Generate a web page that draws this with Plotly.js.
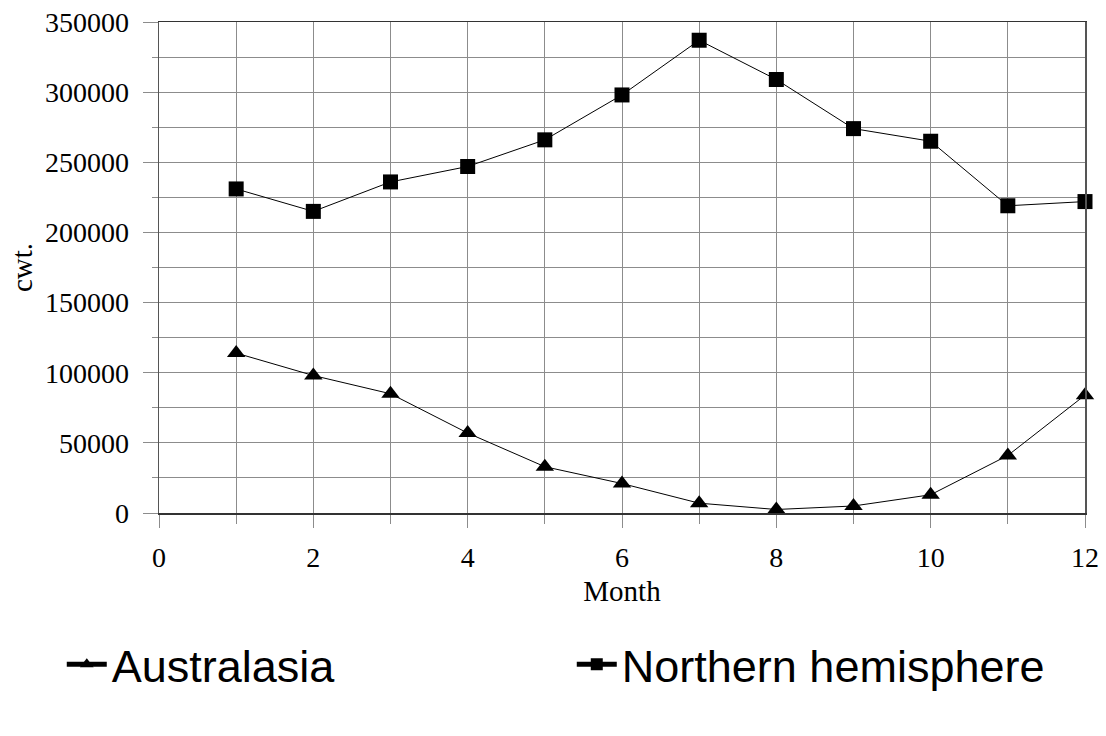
<!DOCTYPE html>
<html>
<head>
<meta charset="utf-8">
<script src="https://cdn.plot.ly/plotly-3.0.1.min.js"></script>
<style>html,body{margin:0;padding:0;background:#fff;}#chart{width:1106px;height:736px;}</style>
</head>
<body>
<div id="chart"></div>
<script>
const months = [1, 2, 3, 4, 5, 6, 7, 8, 9, 10, 11, 12];
const australasia = [114000, 98000, 85000, 57000, 33000, 21000, 7000, 2500, 5000, 13000, 41000, 84000];
const northern = [231000, 215000, 236000, 247000, 266000, 298000, 337000, 309000, 274000, 265000, 219000, 222000];
const seriesNames = ['Australasia', 'Northern hemisphere'];
const xTitle = 'Month';
const yTitle = 'cwt.';

const serif = '"Liberation Serif", "Times New Roman", serif';
const sans = '"Liberation Sans", Arial, sans-serif';

const traces = [
  {
    x: months, y: australasia, name: seriesNames[0], type: 'scatter', mode: 'lines+markers',
    line: {color: '#000', width: 1}, cliponaxis: false,
    marker: {symbol: 'triangle-up', size: 16, color: '#000'}
  },
  {
    x: months, y: northern, name: seriesNames[1], type: 'scatter', mode: 'lines+markers',
    line: {color: '#000', width: 1}, cliponaxis: false,
    marker: {symbol: 'square', size: 15, color: '#000'}
  }
];

const layout = {
  width: 1106, height: 736,
  margin: {l: 159, r: 21, t: 22, b: 223},
  paper_bgcolor: '#fff', plot_bgcolor: '#fff',
  showlegend: true,
  xaxis: {
    range: [0, 12], dtick: 2, tick0: 0,
    showgrid: true, gridcolor: '#8c8c8c', gridwidth: 1,
    minor: {dtick: 1, showgrid: true, gridcolor: '#8c8c8c', gridwidth: 1, ticks: 'outside', ticklen: 9, tickcolor: '#8c8c8c'},
    ticks: 'outside', ticklen: 13, tickcolor: '#8c8c8c',
    ticklabelstandoff: 6,
    showline: true, linecolor: '#333', linewidth: 1.5, mirror: true,
    zeroline: false,
    tickfont: {family: serif, size: 28, color: '#000'},
    title: {text: xTitle, font: {family: serif, size: 29, color: '#000'}, standoff: 8}
  },
  yaxis: {
    range: [0, 350000], dtick: 50000, tick0: 0,
    showgrid: true, gridcolor: '#8c8c8c', gridwidth: 1,
    minor: {dtick: 25000, showgrid: true, gridcolor: '#8c8c8c', gridwidth: 1, ticks: 'outside', ticklen: 6, tickcolor: '#8c8c8c'},
    ticks: 'outside', ticklen: 15, tickcolor: '#8c8c8c',
    ticklabelstandoff: 8,
    showline: true, linecolor: '#555', linewidth: 1.5, mirror: true,
    zeroline: false,
    tickformat: 'd',
    tickfont: {family: serif, size: 28, color: '#000'},
    title: {text: yTitle, font: {family: serif, size: 29, color: '#000'}, standoff: 4}
  },
  legend: {
    orientation: 'h',
    x: -0.105, xanchor: 'left',
    y: -0.235, yanchor: 'top',
    entrywidth: 455, entrywidthmode: 'pixels',
    itemwidth: 40,
    font: {family: sans, size: 45, color: '#000'},
    bgcolor: 'rgba(0,0,0,0)',
    itemsizing: 'constant'
  }
};

Plotly.newPlot('chart', traces, layout, {displayModeBar: false, staticPlot: true});
</script>
</body>
</html>
